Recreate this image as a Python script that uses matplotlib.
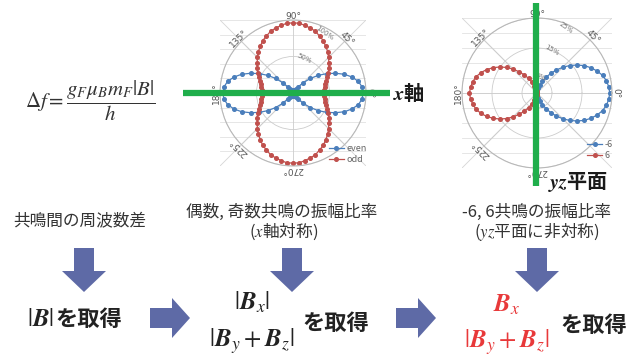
import numpy as np
import matplotlib
matplotlib.use('Agg')
import matplotlib.pyplot as plt
from matplotlib.patches import FancyArrow

plt.rcParams['font.family'] = ['Noto Sans CJK JP', 'DejaVu Sans']
plt.rcParams['mathtext.fontset'] = 'stix'

# ---------------- data ----------------
angles_full = np.arange(0, 360, 5)          # measurement angles (deg), left panel
even_r = [0.96, 0.95, 0.91, 0.84, 0.75, 0.64, 0.53, 0.42, 0.31, 0.20, 0.11, 0.06, 0.04, 0.04, 0.04, 0.04, 0.04, 0.04, 0.04,
          0.04, 0.04, 0.04, 0.04, 0.04, 0.04, 0.06, 0.11, 0.20, 0.31, 0.42, 0.53, 0.64, 0.75, 0.84, 0.91, 0.95, 0.96,
          0.95, 0.91, 0.84, 0.75, 0.64, 0.53, 0.42, 0.31, 0.20, 0.11, 0.06, 0.04, 0.04, 0.04, 0.04, 0.04, 0.04, 0.04,
          0.04, 0.04, 0.04, 0.04, 0.04, 0.04, 0.06, 0.11, 0.20, 0.31, 0.42, 0.53, 0.64, 0.75, 0.84, 0.91, 0.95]
odd_r = [0.42, 0.42, 0.44, 0.46, 0.48, 0.52, 0.56, 0.60, 0.64, 0.69, 0.74, 0.78, 0.83, 0.86, 0.90, 0.92, 0.94, 0.96, 0.96,
         0.96, 0.94, 0.92, 0.90, 0.86, 0.83, 0.78, 0.74, 0.69, 0.64, 0.60, 0.56, 0.52, 0.48, 0.46, 0.44, 0.42, 0.42,
         0.42, 0.44, 0.46, 0.48, 0.52, 0.56, 0.60, 0.64, 0.69, 0.74, 0.78, 0.83, 0.86, 0.90, 0.92, 0.94, 0.96, 0.96,
         0.96, 0.94, 0.92, 0.90, 0.86, 0.83, 0.78, 0.74, 0.69, 0.64, 0.60, 0.56, 0.52, 0.48, 0.46, 0.44, 0.42]

angles_m6 = np.arange(-90, 91, 5)
m6_r = [0.0, 0.01, 0.03, 0.065, 0.11, 0.17, 0.24, 0.32, 0.40, 0.485, 0.57, 0.65, 0.73, 0.795, 0.855, 0.905, 0.94, 0.96,
        0.97,
        0.96, 0.94, 0.905, 0.855, 0.795, 0.73, 0.65, 0.57, 0.485, 0.40, 0.32, 0.24, 0.17, 0.11, 0.065, 0.03, 0.01, 0.0]
angles_p6 = np.arange(90, 271, 5)
p6_r = [0.0, 0.007, 0.027, 0.06, 0.105, 0.16, 0.225, 0.295, 0.37, 0.45, 0.53, 0.605, 0.675, 0.74, 0.795, 0.84, 0.87, 0.89,
        0.90,
        0.89, 0.87, 0.84, 0.795, 0.74, 0.675, 0.605, 0.53, 0.45, 0.37, 0.295, 0.225, 0.16, 0.105, 0.06, 0.027, 0.007, 0.0]

angle_ticks = [0, 45, 90, 135, 180, 225, 270]
left_rticks, left_rlabels = [0.5, 1.0], ['50%', '100%']
right_rticks, right_rlabels = [0.2, 0.6, 1.0], ['5%', '15%', '25%']

captions = ['共鳴間の周波数差', '偶数, 奇数共鳴の振幅比率', r'($x$軸対称)', '-6, 6共鳴の振幅比率', r'($yz$平面に非対称)']

# ---------------- layout ----------------
W, H = 630, 364
fig = plt.figure(figsize=(6.3, 3.64), dpi=100)
BLUE = '#4a7ebb'
RED = '#c0504d'
GREEN = '#1fae4b'
ARROW = '#5e6aa6'
TXT = '#333333'


def rect(cx, cy, R):
    return [(cx - R) / W, 1 - (cy + R) / H, 2 * R / W, 2 * R / H]


def panel(cx, cy, R, series, rticks, rlabels, rlab_pos, leg_xy):
    bg = fig.add_axes(rect(cx, cy, R))
    bg.set_xlim(-1, 1)
    bg.set_ylim(-1, 1)
    bg.axis('off')
    for y in np.linspace(-1, 1, 11):
        bg.axhline(y, color='#e2e2e2', lw=0.6)
    bg.plot([-1, 1], [-1, 1], color='#d6d6d6', lw=0.6)
    bg.plot([-1, 1], [1, -1], color='#d6d6d6', lw=0.6)

    ax = fig.add_axes(rect(cx, cy, R), projection='polar')
    ax.patch.set_alpha(0)
    ax.set_ylim(0, 1)
    ax.set_thetagrids(angle_ticks + [315], labels=[''] * 8)
    ax.set_rgrids(rticks, labels=[''] * len(rticks))
    ax.grid(color='#cccccc', lw=0.6)
    ax.spines['polar'].set_color('#b8b8b8')
    ax.spines['polar'].set_linewidth(0.8)
    for ang, r, col, lab in series:
        t = np.deg2rad(np.append(ang, ang[0]))
        rr = np.append(r, r[0])
        ax.plot(t, rr, '-o', color=col, lw=0.9, ms=2.6, label=lab)
    for a in angle_ticks:
        ax.text(np.deg2rad(a), 1.05, f'{a}°', rotation=a - 90, ha='center', va='center',
                rotation_mode='anchor', fontsize=6.5, color='#555555', family='DejaVu Sans', clip_on=False)
    for (ta, tr, rot), lab in zip(rlab_pos, rlabels):
        ax.text(np.deg2rad(ta), tr, lab, rotation=rot, ha='center', va='center', fontsize=5,
                color='#777777', family='DejaVu Sans')
    ax.legend(loc='center', bbox_to_anchor=(leg_xy[0] / W, 1 - leg_xy[1] / H), bbox_transform=fig.transFigure,
              frameon=False, fontsize=6.5, handlelength=1.6, labelspacing=0.15, handletextpad=0.3,
              labelcolor='#666666', borderpad=0)
    return ax


panel(293, 93, 73,
      [(angles_full, even_r, BLUE, 'even'), (angles_full, odd_r, RED, 'odd')],
      left_rticks, left_rlabels, [(72, 0.5, -25), (62, 0.93, -35)], (348, 154))
panel(537, 93, 75,
      [(angles_m6, m6_r, BLUE, '-6'), (angles_p6, p6_r, RED, '6')],
      right_rticks, right_rlabels, [(80, 0.22, -20), (71, 0.6, -30), (66, 0.95, -35)], (600, 150))

ov = fig.add_axes([0, 0, 1, 1])
ov.set_xlim(0, W)
ov.set_ylim(H, 0)
ov.axis('off')
ov.patch.set_alpha(0)

# green axes markers
ov.plot([183, 390], [92.5, 92.5], color=GREEN, lw=4.5, solid_capstyle='butt')
ov.plot([536, 536], [3, 186], color=GREEN, lw=4.5, solid_capstyle='butt')
ov.text(393, 93, r'$\mathbfit{x}$軸', fontsize=14.5, fontweight='bold', ha='left', va='center', color='#1a1a1a')
ov.text(548, 182, r'$\mathbfit{yz}$平面', fontsize=14.5, fontweight='bold', ha='left', va='center', color='#1a1a1a')

# formula
ov.text(90, 101, r'$\Delta f = \dfrac{g_F\mu_B m_F|B|}{h}$', fontsize=15, ha='center', va='center', color='#333333')

# captions
ov.text(80, 222, captions[0], fontsize=12, ha='center', va='center', color=TXT)
ov.text(282, 212, captions[1], fontsize=12, ha='center', va='center', color=TXT)
ov.text(284, 232, captions[2], fontsize=12, ha='center', va='center', color=TXT)
ov.text(537, 212, captions[3], fontsize=12, ha='center', va='center', color=TXT)
ov.text(537, 232, captions[4], fontsize=12, ha='center', va='center', color=TXT)

# arrows
for x in [84, 292, 537]:
    ov.add_patch(FancyArrow(x, 248, 0, 44, width=20, head_width=44, head_length=21,
                            length_includes_head=True, color=ARROW, lw=0))
for x in [150, 396]:
    ov.add_patch(FancyArrow(x, 318, 40, 0, width=20, head_width=40, head_length=18,
                            length_includes_head=True, color=ARROW, lw=0))

# bottom texts
MATH = 18
ov.text(54, 319, r'$|\mathbfit{B}|$', fontsize=MATH, ha='right', va='center', color='#222222')
ov.text(55, 319, 'を取得', fontsize=16, fontweight='bold', ha='left', va='center', color='#222222')

ov.text(252, 303, r'$|\mathbfit{B}_x|$', fontsize=MATH, ha='center', va='center', color='#222222')
ov.text(252, 341, r'$|\mathbfit{B}_y + \mathbfit{B}_z|$', fontsize=MATH, ha='center', va='center', color='#222222')
ov.text(302, 324, 'を取得', fontsize=16, fontweight='bold', ha='left', va='center', color='#222222')

ov.text(507, 305, r'$\mathbfit{B}_x$', fontsize=MATH, ha='center', va='center', color='#e8393a')
ov.text(507, 342, r'$|\mathbfit{B}_y + \mathbfit{B}_z|$', fontsize=MATH, ha='center', va='center', color='#e8393a')
ov.text(560, 326, 'を取得', fontsize=16, fontweight='bold', ha='left', va='center', color='#222222')

fig.savefig('out.png', dpi=100)
